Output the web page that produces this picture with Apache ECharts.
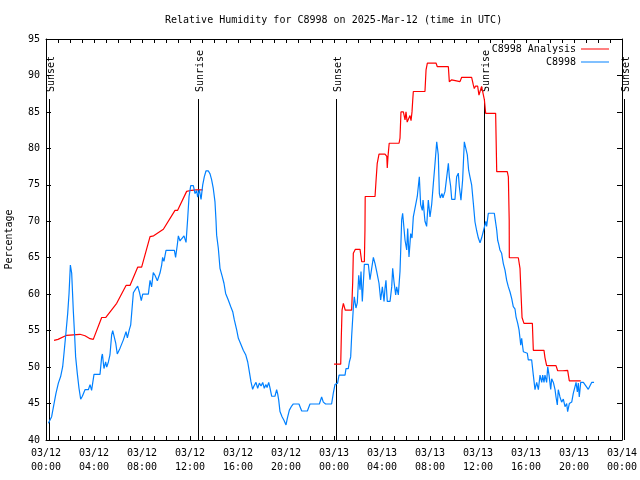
<!DOCTYPE html>
<html>
<head>
<meta charset="utf-8">
<script src="https://cdn.jsdelivr.net/npm/echarts@6/dist/echarts.min.js"></script>
<style>
html,body{margin:0;padding:0;background:#fff;}
#chart{width:640px;height:480px;}
</style>
</head>
<body>
<div id="chart"></div>
<script>
// Hours since 2025-03-12 00:00 UTC
const analysisHours = [0.67,1.0,1.72,2.83,3.25,3.67,3.94,4.64,4.97,5.89,6.0,6.67,7.0,7.64,7.97,8.67,8.97,9.78,9.94,10.75,10.97,11.72,12.14,12.5,13.06,
  null,
  24.0,24.56,24.61,24.67,24.78,24.86,24.94,25.47,25.56,25.61,25.78,26.17,26.31,26.53,26.58,26.6,27.42,27.45,27.5,27.6,27.75,28.25,28.4,28.44,28.5,28.6,29.42,29.5,29.58,29.78,29.92,30.0,30.1,30.33,30.42,30.5,30.56,30.61,31.58,31.67,31.78,32.5,32.61,33.53,33.61,33.72,33.81,33.9,34.5,34.64,35.47,35.61,35.69,35.8,35.97,36.08,36.17,36.3,36.42,36.53,36.64,37.47,37.56,38.44,38.53,38.6,38.61,39.36,39.5,39.58,39.67,39.83,40.53,40.61,41.5,41.58,41.72,42.5,42.56,42.64,43.06,43.17,43.47,43.61,44.56];
const analysisValues = [53.67,53.8,54.36,54.5,54.3,53.9,53.8,56.8,56.8,58.75,58.8,61.2,61.2,63.7,63.7,67.9,68.0,68.9,68.9,71.5,71.5,74.1,74.25,74.3,74.3,
  null,
  50.4,50.4,54.2,57.8,58.75,58.75,57.8,57.8,61.7,65.6,66.15,66.15,64.45,64.45,68.8,73.4,73.4,73.4,75.5,77.9,79.2,79.2,78.9,77.3,78.9,80.7,80.7,81.4,85.0,85.0,83.9,85.0,83.6,84.5,83.8,85.0,86.6,87.8,87.8,90.75,91.7,91.7,91.2,91.2,89.15,89.4,89.4,89.15,89.15,89.75,89.75,88.7,88.2,88.55,88.55,87.3,87.8,88.5,88.5,86.7,84.8,84.8,76.8,76.8,76.1,70.2,65.0,65.0,63.55,60.3,56.8,56.0,56.0,52.3,52.3,51.3,50.2,50.2,50.4,49.5,49.5,49.6,49.55,48.1,48.1];

const obsHours = [0.2,0.47,0.67,0.83,1.03,1.22,1.39,1.5,1.67,1.81,1.92,2.03,2.14,2.28,2.39,2.47,2.61,2.75,2.89,3.03,3.25,3.53,3.67,3.8,4.0,4.5,4.64,4.7,4.83,4.97,5.06,5.2,5.33,5.47,5.56,5.69,5.81,5.94,6.17,6.44,6.67,6.78,6.94,7.06,7.14,7.28,7.5,7.64,7.78,7.94,8.06,8.53,8.67,8.8,8.94,9.08,9.28,9.5,9.64,9.72,9.83,10.0,10.7,10.8,10.94,11.03,11.17,11.3,11.5,11.67,11.8,11.92,12.06,12.28,12.42,12.56,12.64,12.78,12.92,13.06,13.19,13.33,13.53,13.67,13.8,13.94,14.08,14.17,14.22,14.36,14.5,14.69,14.83,14.97,15.19,15.39,15.56,15.69,15.89,16.03,16.22,16.44,16.64,16.81,16.94,17.08,17.22,17.33,17.5,17.64,17.78,17.92,18.06,18.19,18.33,18.42,18.56,18.67,18.81,19.08,19.22,19.31,19.39,19.5,19.67,19.83,20.0,20.11,20.28,20.47,20.61,21.08,21.31,21.78,22.0,22.78,22.97,23.11,23.3,23.8,23.94,24.08,24.3,24.42,24.92,25.0,25.19,25.28,25.39,25.47,25.61,25.69,25.83,25.94,26.06,26.17,26.25,26.36,26.53,26.86,27.0,27.14,27.28,27.42,27.56,27.75,27.89,28.03,28.17,28.25,28.33,28.44,28.67,28.81,28.89,29.0,29.14,29.22,29.36,29.5,29.56,29.64,29.72,29.78,29.92,30.06,30.14,30.25,30.39,30.5,30.61,30.94,31.11,31.22,31.36,31.42,31.58,31.72,31.86,32.0,32.14,32.28,32.42,32.56,32.69,32.78,32.86,33.0,33.08,33.25,33.39,33.53,33.61,33.72,33.81,34.08,34.22,34.36,34.44,34.58,34.72,34.86,35.0,35.11,35.22,35.33,35.47,35.61,35.75,35.89,36.03,36.17,36.3,36.44,36.58,36.65,36.72,36.86,37.36,37.42,37.56,37.64,37.72,37.83,37.97,38.11,38.25,38.39,38.53,38.67,38.81,38.94,39.08,39.17,39.31,39.42,39.5,39.56,39.64,39.7,39.78,40.11,40.19,40.47,40.61,40.75,40.89,41.03,41.17,41.31,41.39,41.5,41.58,41.72,41.81,41.92,42.06,42.14,42.28,42.42,42.5,42.61,42.69,42.83,42.97,43.11,43.25,43.39,43.47,43.61,43.81,43.94,44.08,44.17,44.28,44.36,44.44,44.56,44.78,45.19,45.47,45.67];
const obsValues = [42.3,43.2,45.0,46.4,47.8,48.7,50.05,51.9,54.85,57.4,60.1,64.0,62.9,57.6,54.2,51.4,49.1,47.1,45.6,46.0,46.9,46.9,47.6,46.8,49.0,49.0,51.4,51.8,49.8,50.7,50.0,50.7,51.66,54.4,55.0,55.0,53.3,51.8,52.6,53.7,54.85,54.0,55.1,55.8,57.4,60.2,60.8,61.1,60.3,59.1,60.0,60.0,61.9,61.0,62.95,62.6,61.85,62.9,64.0,65.05,64.5,66.0,66.0,65.05,66.75,68.0,67.3,67.6,68.0,67.1,70.2,73.4,74.9,74.9,73.8,74.2,73.3,74.3,73.0,75.0,76.1,76.9,76.9,76.5,75.7,74.5,72.7,70.0,68.1,66.3,63.55,62.4,61.5,60.1,59.2,58.3,57.6,56.5,55.1,53.95,53.2,52.3,51.7,50.7,49.4,48.0,46.95,47.4,47.9,47.1,47.8,47.4,47.9,47.1,47.6,47.2,47.9,47.1,46.0,46.0,46.9,46.3,45.5,43.9,43.2,42.7,42.06,42.97,44.1,44.66,44.94,44.94,43.98,43.98,44.94,44.94,45.9,45.2,44.94,44.94,46.4,47.6,47.8,48.9,48.9,49.8,49.8,50.7,51.4,54.2,58.1,59.65,58.1,58.8,62.6,60.6,63.1,59.0,64.1,64.1,62.0,62.0,65.06,64.2,63.1,61.5,59.2,61.0,59.0,60.8,61.9,59.0,59.0,61.0,63.55,61.7,59.9,61.0,59.9,63.1,66.06,70.2,71.1,70.0,67.4,66.06,69.0,65.1,68.3,67.7,70.6,73.4,76.1,72.3,71.5,72.9,70.0,69.3,72.9,70.6,72.3,75.2,77.95,80.9,79.1,73.8,73.2,73.8,73.2,74.1,74.1,77.95,76.1,74.8,73.0,73.0,76.1,76.6,74.8,72.9,75.7,80.9,80.9,79.1,77.0,76.1,75.0,72.5,69.9,68.7,67.7,67.06,67.7,68.6,69.5,70.0,69.3,71.1,71.1,70.4,68.8,67.4,66.9,66.06,65.6,64.2,63.3,61.9,61.0,60.3,59.4,58.3,58.0,56.9,56.0,55.1,53.95,53.0,53.95,53.1,52.1,51.9,51.0,51.0,48.9,46.9,47.9,46.9,48.9,47.9,48.9,47.9,48.9,47.9,50.05,48.9,46.95,48.4,47.9,46.9,45.9,44.8,46.9,45.9,45.2,45.6,44.57,45.0,43.9,45.0,45.2,46.4,47.3,47.9,46.6,47.8,45.9,47.9,47.9,46.95,47.9,47.9];

const eventHours = [0.25, 12.67, 24.17, 36.58, 48.17];
const eventLabels = ['Sunset', 'Sunrise', 'Sunset', 'Sunrise', 'Sunset'];

const xTickLabels = ['03/12\n00:00','03/12\n04:00','03/12\n08:00','03/12\n12:00','03/12\n16:00','03/12\n20:00',
                     '03/13\n00:00','03/13\n04:00','03/13\n08:00','03/13\n12:00','03/13\n16:00','03/13\n20:00','03/14\n00:00'];
const yTicks = [40,45,50,55,60,65,70,75,80,85,90,95];

const titleText = 'Relative Humidity for C8998 on 2025-Mar-12 (time in UTC)';
const seriesNames = ['C8998 Analysis', 'C8998'];

const FONT = 'DejaVu Sans Mono';
const xMin = 0, xMax = 48, xStep = 4;
const yMin = yTicks[0], yMax = yTicks[yTicks.length - 1], yStep = 5;

function pairs(xs, ys) { return xs.map((x, i) => (x === null ? '-' : [x, ys[i]])); }

const baseX = {
  type: 'value', min: xMin, max: xMax, interval: xStep,
  axisLine: { show: true, onZero: false, lineStyle: { color: '#000', width: 1 } },
  axisTick: { show: true, inside: true, length: 4, lineStyle: { color: '#000' } },
  minorTick: { show: true, splitNumber: 4, length: 4, lineStyle: { color: '#000' } },
  splitLine: { show: false }, minorSplitLine: { show: false }
};
const baseY = {
  type: 'value', min: yMin, max: yMax, interval: yStep,
  axisLine: { show: true, onZero: false, lineStyle: { color: '#000', width: 1 } },
  axisTick: { show: true, inside: true, length: 5, lineStyle: { color: '#000' } },
  splitLine: { show: false }
};

const chart = echarts.init(document.getElementById('chart'), null, { renderer: 'canvas' });
chart.setOption({
  animation: false,
  backgroundColor: '#fff',
  title: {
    text: titleText, left: 165, top: 14, padding: 0,
    textStyle: { fontFamily: FONT, fontSize: 10, fontWeight: 'normal', color: '#000', lineHeight: 12 }
  },
  legend: {
    data: seriesNames, orient: 'vertical', align: 'right', right: 31, top: 43,
    icon: 'rect', itemWidth: 28, itemHeight: 1, itemGap: 1, padding: 0,
    textStyle: { fontFamily: FONT, fontSize: 10, color: '#000', lineHeight: 12 }
  },
  grid: { left: 46, top: 39, width: 576, height: 401, containLabel: false, outerBoundsMode: 'none' },
  xAxis: [
    Object.assign({}, baseX, {
      position: 'bottom',
      axisLabel: {
        show: true, margin: 6, fontFamily: FONT, fontSize: 10, color: '#000', lineHeight: 14,
        formatter: v => xTickLabels[Math.round((v - xMin) / xStep)] || ''
      }
    }),
    Object.assign({}, baseX, { position: 'top', axisLabel: { show: false } })
  ],
  yAxis: [
    Object.assign({}, baseY, {
      position: 'left',
      name: 'Percentage', nameLocation: 'middle', nameGap: 32, nameRotate: 90,
      nameTextStyle: { fontFamily: FONT, fontSize: 10, color: '#000' },
      axisLabel: { show: true, margin: 6, fontFamily: FONT, fontSize: 10, color: '#000' }
    }),
    Object.assign({}, baseY, { position: 'right', axisLabel: { show: false } })
  ],
  series: [
    {
      type: 'custom', name: 'events', xAxisIndex: 0, yAxisIndex: 0, clip: false, silent: true, z: 1,
      data: eventHours.map(h => [h, yMin]),
      encode: { x: 0, y: 1 },
      renderItem: function (params, api) {
        const h = api.value(0);
        const b = api.coord([h, yMin]);
        const t = api.coord([h, yMax]);
        const x = Math.floor(b[0]) + 0.5;
        return {
          type: 'group',
          children: [
            { type: 'line', shape: { x1: x, y1: t[1] + 60, x2: x, y2: b[1] }, style: { stroke: '#000', lineWidth: 1 } },
            { type: 'text', x: x + 1.5, y: t[1] + 53, rotation: Math.PI / 2,
              style: { text: eventLabels[params.dataIndex], font: '10px "' + FONT + '"', fill: '#000', align: 'left', verticalAlign: 'middle' } }
          ]
        };
      }
    },
    {
      type: 'line', name: seriesNames[0], xAxisIndex: 0, yAxisIndex: 0, z: 3,
      data: pairs(analysisHours, analysisValues),
      symbol: 'none', connectNulls: false, color: '#ff0000',
      lineStyle: { color: '#ff0000', width: 1.2 }
    },
    {
      type: 'line', name: seriesNames[1], xAxisIndex: 0, yAxisIndex: 0, z: 4,
      data: pairs(obsHours, obsValues),
      symbol: 'none', color: '#0080ff',
      lineStyle: { color: '#0080ff', width: 1.2 }
    }
  ]
});
</script>
</body>
</html>
